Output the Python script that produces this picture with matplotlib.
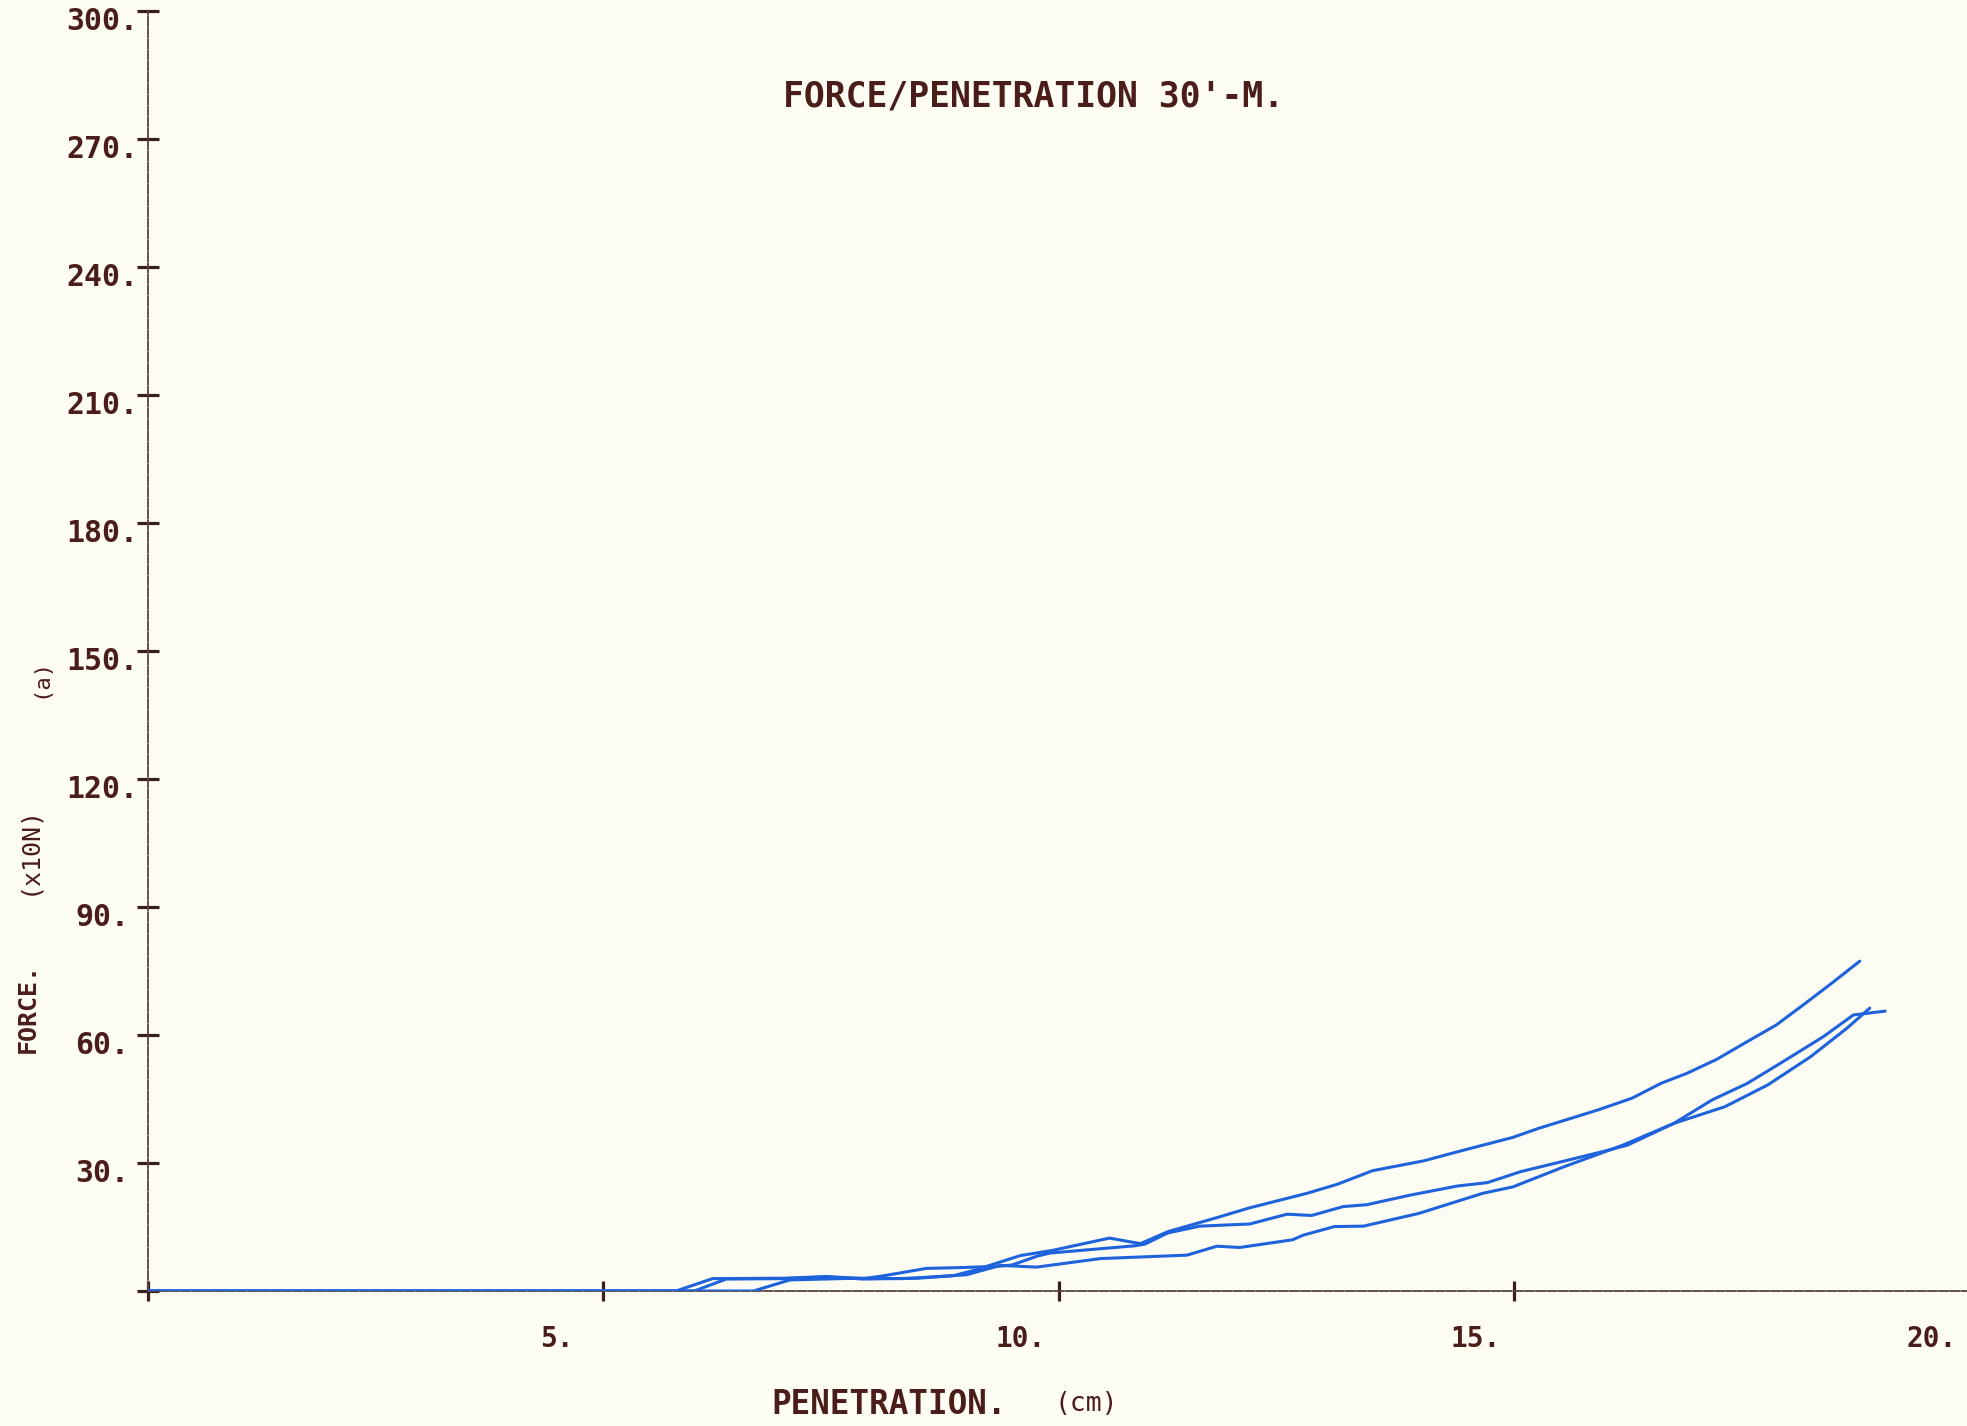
import matplotlib
matplotlib.use("Agg")
import matplotlib.pyplot as plt
from matplotlib.transforms import ScaledTranslation

# ---- data: penetration (cm) vs force (x10 N), three test runs ----
pen_1 = [0.0, 5.8, 6.2, 7.0, 7.45, 7.86, 8.06, 8.55, 8.94, 9.2, 9.58, 9.93,
         10.56, 10.9, 11.2, 11.74, 12.1, 12.73, 13.06, 13.45, 14.01, 14.43,
         14.99, 15.27, 15.92, 16.3, 16.62, 16.9, 17.23, 17.56, 17.88, 18.17,
         18.49, 18.8]
force_1 = [0.0, 0.0, 2.9, 3.0, 3.4, 2.9, 3.5, 5.3, 5.5, 5.7, 8.3, 9.5,
           12.4, 11.1, 13.9, 17.2, 19.5, 22.9, 25.0, 28.2, 30.5, 32.9,
           36.0, 38.1, 42.4, 45.2, 48.7, 51.0, 54.3, 58.4, 62.3, 66.9,
           72.1, 77.3]

pen_2 = [0.0, 6.0, 6.35, 7.0, 7.45, 7.86, 8.46, 8.85, 9.19, 9.49, 9.77, 9.91,
         10.84, 10.95, 11.2, 11.55, 12.1, 12.51, 12.78, 13.13, 13.38, 13.87,
         14.38, 14.71, 15.08, 15.64, 16.02, 16.25, 16.76, 17.32, 17.79, 18.26,
         18.66, 18.91]
force_2 = [0.0, 0.0, 2.8, 2.9, 3.3, 2.8, 3.0, 3.6, 5.5, 6.1, 8.2, 8.9,
           10.6, 11.0, 13.6, 15.2, 15.7, 18.0, 17.7, 19.8, 20.2, 22.5,
           24.6, 25.4, 28.0, 30.9, 32.9, 34.2, 39.3, 43.2, 48.3, 54.9,
           61.6, 66.3]

pen_3 = [0.0, 6.65, 7.05, 7.8, 8.3, 8.99, 9.36, 9.76, 10.46, 11.41, 11.74,
         11.99, 12.57, 12.69, 13.03, 13.35, 13.96, 14.66, 14.99, 15.55, 16.2,
         16.76, 17.18, 17.56, 17.93, 18.4, 18.73, 19.08]
force_3 = [0.0, 0.0, 2.6, 3.0, 2.9, 3.8, 6.0, 5.6, 7.6, 8.4, 10.5,
           10.2, 12.0, 13.1, 15.1, 15.2, 18.2, 22.9, 24.4, 29.1, 34.2,
           39.3, 44.8, 48.6, 53.4, 59.6, 64.7, 65.6]

x_ticks = [0, 5, 10, 15, 20]
x_labels = ["", "5.", "10.", "15.", "20."]
y_ticks = [0, 30, 60, 90, 120, 150, 180, 210, 240, 270, 300]
y_labels = ["", "30.", "60.", "90.", "120.", "150.", "180.", "210.",
            "240.", "270.", "300."]

title = "FORCE/PENETRATION 30'-M."
x_title = "PENETRATION."
x_unit = "(cm)"
y_title = "FORCE."
y_unit = "(x10N)"
panel_tag = "(a)"

# ---- style ----
PAPER = "#fcfcf3"
INK = "#4a1c1a"
AXIS_INK = "#5a423d"
PEN = "#1f63dc"
MONO = "DejaVu Sans Mono"

W, H, DPI = 1967, 1426, 100
fig = plt.figure(figsize=(W / DPI, H / DPI), dpi=DPI, facecolor=PAPER)

x0, y0 = 148, 1291          # origin in pixels
x20, y300 = 1969, 11        # far ends of the axes in pixels
ax = fig.add_axes([x0 / W, (H - y0) / H, (x20 - x0) / W, (y0 - y300) / H])
ax.set_facecolor("none")
ax.set_xlim(0, 20)
ax.set_ylim(0, 300)

for s in ("top", "right"):
    ax.spines[s].set_visible(False)
for s in ("left", "bottom"):
    ax.spines[s].set_color(AXIS_INK)
    ax.spines[s].set_linewidth(1.3)
    ax.spines[s].set_linestyle((0, (5, 1.2)))

ax.set_xticks(x_ticks)
ax.set_yticks(y_ticks)
ax.tick_params(axis="both", direction="inout", width=2.3, color="#3b1e1a",
               labelleft=False, labelbottom=False)
ax.tick_params(axis="y", length=16.5)
ax.tick_params(axis="x", length=14)

# force curves
for px, fy in ((pen_1, force_1), (pen_2, force_2), (pen_3, force_3)):
    ax.plot(px, fy, color=PEN, lw=2.2, solid_joinstyle="round",
            solid_capstyle="round", zorder=3)

# tick labels placed like the plotter lettering
ytrans = ax.get_yaxis_transform() + ScaledTranslation(-46 / DPI, -11 / DPI,
                                                      fig.dpi_scale_trans)
for v, lab in zip(y_ticks, y_labels):
    if lab:
        ax.text(0, v, lab, transform=ytrans, ha="center", va="center",
                family=MONO, weight="bold", fontsize=21.5, color=INK,
                clip_on=False)

xtrans = ax.get_xaxis_transform() + ScaledTranslation(-63 / DPI, -48 / DPI,
                                                      fig.dpi_scale_trans)
for v, lab in zip(x_ticks, x_labels):
    if lab:
        ax.text(v, 0, lab, transform=xtrans, ha="left", va="center",
                family=MONO, weight="bold", fontsize=20, color=INK,
                clip_on=False)

# titles and axis captions (figure pixel coordinates)
def fpx(x, y):
    return x / W, 1 - y / H

fig.text(*fpx(1033, 97), title, ha="center", va="center", family=MONO,
         weight="bold", fontsize=25, color=INK)
fig.text(*fpx(771, 1404), x_title, ha="left", va="center", family=MONO,
         weight="bold", fontsize=23.5, color=INK)
fig.text(*fpx(1054, 1404), x_unit, ha="left", va="center", family=MONO,
         fontsize=19, color=INK)
fig.text(*fpx(28, 1008), y_title, ha="center", va="center", rotation=90,
         family=MONO, weight="bold", fontsize=18, color=INK)
fig.text(*fpx(28, 850), y_unit, ha="center", va="center", rotation=90,
         family=MONO, fontsize=18, color=INK)
fig.text(*fpx(40, 678), panel_tag, ha="center", va="center", rotation=90,
         family=MONO, fontsize=16, color=INK)

fig.savefig("out.png", dpi=DPI, facecolor=PAPER)
